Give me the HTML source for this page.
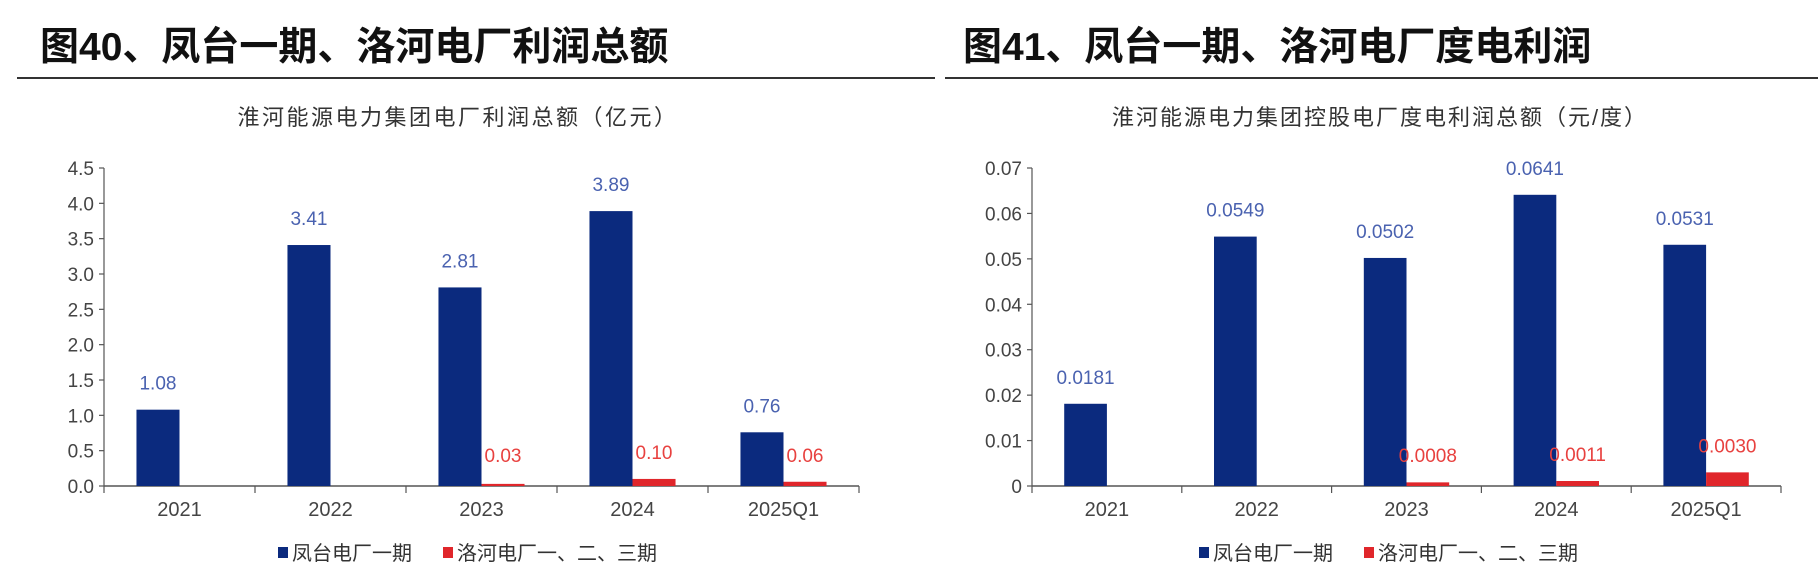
<!DOCTYPE html>
<html><head><meta charset="utf-8"><style>
body{margin:0;background:#fff;}
svg{display:block;font-family:"Liberation Sans","Noto Sans CJK SC",sans-serif;}
</style></head><body>
<svg id="s" width="1818" height="582" xmlns="http://www.w3.org/2000/svg"></svg>
<script>
const categories = ["2021","2022","2023","2024","2025Q1"];
const profitFengtai = [1.08,3.41,2.81,3.89,0.76];
const profitLuohe = [null,null,0.03,0.10,0.06];
const profitLabelsFengtai = ["1.08","3.41","2.81","3.89","0.76"];
const profitLabelsLuohe = [null,null,"0.03","0.10","0.06"];
const profitTicks = [0,0.5,1.0,1.5,2.0,2.5,3.0,3.5,4.0,4.5];
const profitTickLabels = ["0.0","0.5","1.0","1.5","2.0","2.5","3.0","3.5","4.0","4.5"];
const unitFengtai = [0.0181,0.0549,0.0502,0.0641,0.0531];
const unitLuohe = [null,null,0.0008,0.0011,0.0030];
const unitLabelsFengtai = ["0.0181","0.0549","0.0502","0.0641","0.0531"];
const unitLabelsLuohe = [null,null,"0.0008","0.0011","0.0030"];
const unitTicks = [0,0.01,0.02,0.03,0.04,0.05,0.06,0.07];
const unitTickLabels = ["0","0.01","0.02","0.03","0.04","0.05","0.06","0.07"];

const NS="http://www.w3.org/2000/svg";
const svg=document.getElementById('s');
function mk(tag,attrs,text){const e=document.createElementNS(NS,tag);for(const k in attrs)e.setAttribute(k,attrs[k]);if(text!=null)e.textContent=text;svg.appendChild(e);return e;}

function chart(o){
  const t=mk('text',{x:o.titleX,y:60,'font-size':39,'font-weight':'bold',fill:'#111'},o.title);
  
  
  const r=mk('line',{x1:o.ruleX1,x2:o.ruleX2,y1:78,y2:78,stroke:'#333','stroke-width':2});
  
  
  const st=mk('text',{x:o.subX,y:125,'font-size':22,'text-anchor':'middle',fill:'#333','letter-spacing':o.ls},o.sub);
  
  
  const x0=o.ax0,x1=o.ax1,y0=486,yTop=168,max=o.ticks[o.ticks.length-1];
  const ys=v=>y0-(v/max)*(y0-yTop);
  const cw=(x1-x0)/o.cats.length;
  const bw=cw*0.285;
  const ya=mk('line',{x1:x0,x2:x0,y1:yTop,y2:y0,stroke:'#555','stroke-width':1.2});
  
  
  o.ticks.forEach((v,i)=>{
    const y=ys(v);
    mk('line',{x1:x0-5,x2:x0,y1:y,y2:y,stroke:'#555','stroke-width':1.2});
    const tl=mk('text',{x:x0-10,y:y+7,'font-size':19,'text-anchor':'end',fill:'#444'},o.tickLabels[i]);
    
    
  });
  const xa=mk('line',{x1:x0,x2:x1,y1:y0,y2:y0,stroke:'#555','stroke-width':1.5});
  
  
  for(let i=0;i<=o.cats.length;i++){const x=x0+i*cw;mk('line',{x1:x,x2:x,y1:y0,y2:y0+7,stroke:'#555','stroke-width':1.2});}
  o.cats.forEach((c,i)=>{
    const cx=x0+(i+0.5)*cw;
    const xl=mk('text',{x:cx,y:516,'font-size':20,'text-anchor':'middle',fill:'#444'},c);
    
    
    const v=o.a[i];
    if(v!=null){
      const b=mk('rect',{x:cx-bw,y:ys(v),width:bw,height:y0-ys(v),fill:'#0b2a7e'});
      
      
      const l=mk('text',{x:cx-bw/2,y:ys(v)-20,'font-size':19,'text-anchor':'middle',fill:'#4a62b0'},o.al[i]);
      
      
    }
    const w=o.b[i];
    if(w!=null){
      const b=mk('rect',{x:cx,y:ys(w),width:bw,height:y0-ys(w),fill:'#e0262b'});
      
      
      const l=mk('text',{x:cx+bw/2,y:Math.min(ys(w),y0-4)-20,'font-size':19,'text-anchor':'middle',fill:'#e8413f'},o.bl[i]);
      
      
    }
  });
  const s1=mk('rect',{x:o.lg1,y:547,width:10,height:11,fill:'#0b2a7e'});
  
  
  const t1=mk('text',{x:o.lg1+14,y:560,'font-size':20,fill:'#333'},'凤台电厂一期');
  
  
  const s2=mk('rect',{x:o.lg2,y:547,width:10,height:11,fill:'#e0262b'});
  
  
  const t2=mk('text',{x:o.lg2+14,y:560,'font-size':20,fill:'#333'},'洛河电厂一、二、三期');
  
  
}
chart({id:'profit',title:'图40、凤台一期、洛河电厂利润总额',titleX:40,ruleX1:17,ruleX2:935,
  sub:'淮河能源电力集团电厂利润总额（亿元）',subX:458,ls:2.5,ax0:104,ax1:859,
  cats:categories,a:profitFengtai,b:profitLuohe,al:profitLabelsFengtai,bl:profitLabelsLuohe,
  ticks:profitTicks,tickLabels:profitTickLabels,lg1:278,lg2:443});
chart({id:'unit',title:'图41、凤台一期、洛河电厂度电利润',titleX:963,ruleX1:945,ruleX2:1818,
  sub:'淮河能源电力集团控股电厂度电利润总额（元/度）',subX:1380,ls:2,ax0:1032,ax1:1781,
  cats:categories,a:unitFengtai,b:unitLuohe,al:unitLabelsFengtai,bl:unitLabelsLuohe,
  ticks:unitTicks,tickLabels:unitTickLabels,lg1:1199,lg2:1364});
</script>
</body></html>
